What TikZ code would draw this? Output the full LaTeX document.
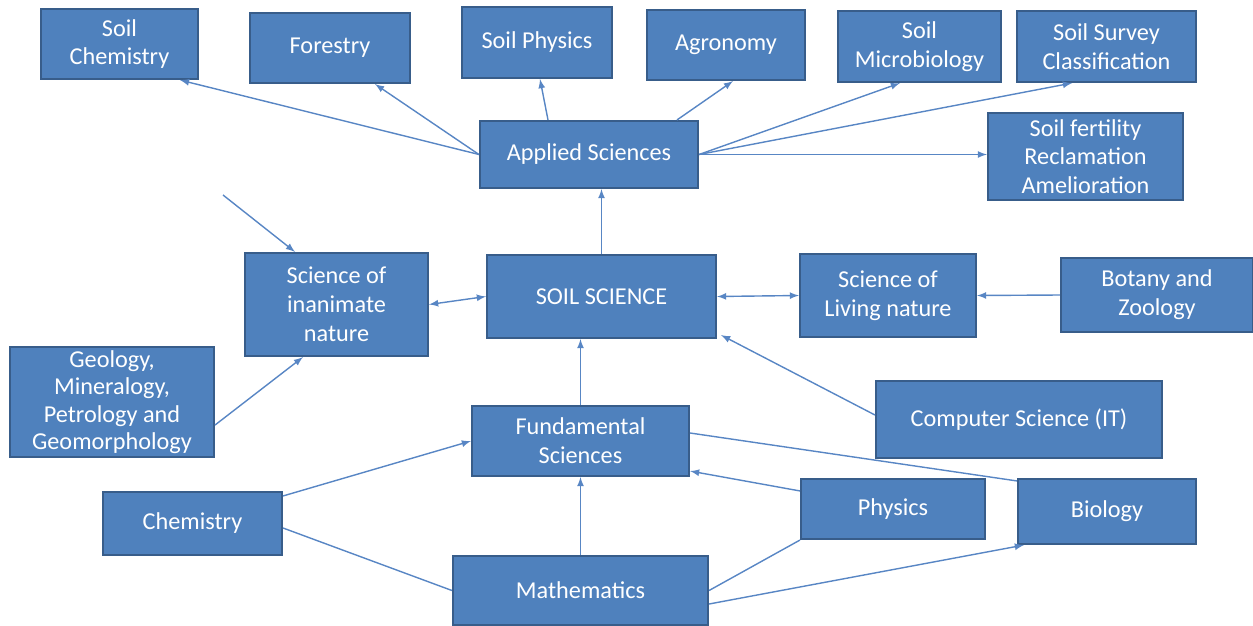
\documentclass[tikz,border=0pt]{standalone}
\usepackage{fontspec}
\setmainfont{Carlito}
\usetikzlibrary{calc,arrows}
\definecolor{boxfill}{RGB}{79,129,189}
\definecolor{boxline}{RGB}{56,93,138}
\definecolor{linkblue}{RGB}{88,134,196}
\tikzset{
  box/.style={draw=boxline, fill=boxfill, line width=1.2pt, text=white, align=center,
    inner sep=0pt, font=\fontsize{13.8}{16.4}\selectfont},
  link/.style={draw=linkblue, line width=0.8pt, -latex},
  twoway/.style={draw=linkblue, line width=0.8pt, latex-latex},
  plain/.style={draw=linkblue, line width=0.8pt}
}
\begin{document}
\begin{tikzpicture}[scale=1]
\useasboundingbox (0,0) rectangle (25.06,-12.5);
% top row
\node[box, minimum width=3.14cm, minimum height=1.40cm] (soilchem) at (2.39,-0.88) {Soil\\Chemistry};
\node[box, minimum width=3.20cm, minimum height=1.40cm] (forestry) at (6.60,-0.96) {Forestry};
\node[box, minimum width=3.00cm, minimum height=1.42cm] (soilphys) at (10.74,-0.85) {Soil Physics};
\node[box, minimum width=3.16cm, minimum height=1.40cm] (agronomy) at (14.52,-0.90) {Agronomy};
\node[box, minimum width=3.26cm, minimum height=1.42cm] (microbio) at (18.39,-0.93) {Soil\\Microbiology};
\node[box, minimum width=3.58cm, minimum height=1.42cm] (survey) at (22.13,-0.93) {Soil Survey\\Classification};
\node[box, minimum width=3.90cm, minimum height=1.74cm] (fertility) at (21.71,-3.13) {Soil fertility\\Reclamation\\Amelioration};
\node[box, minimum width=4.36cm, minimum height=1.34cm] (applied) at (11.78,-3.09) {Applied Sciences};
% middle row
\node[box, minimum width=3.66cm, minimum height=2.06cm] (inanimate) at (6.73,-6.09) {Science of\\inanimate\\nature};
\node[box, minimum width=4.58cm, minimum height=1.66cm] (soilsci) at (12.03,-5.93) {SOIL SCIENCE};
\node[box, minimum width=3.52cm, minimum height=1.66cm] (living) at (17.76,-5.91) {Science of\\Living nature};
\node[box, minimum width=3.84cm, minimum height=1.48cm] (botany) at (23.14,-5.90) {Botany and\\Zoology};
\node[box, minimum width=4.08cm, minimum height=2.20cm, font=\fontsize{13.8}{15.6}\selectfont] (geology) at (2.24,-8.04) {Geology,\\Mineralogy,\\Petrology and\\Geomorphology};
\node[box, minimum width=5.72cm, minimum height=1.54cm] (computer) at (20.38,-8.39) {Computer Science (IT)};
% bottom rows
\node[box, minimum width=4.34cm, minimum height=1.40cm] (fundamental) at (11.61,-8.82) {Fundamental\\Sciences};
\node[box, minimum width=3.58cm, minimum height=1.26cm] (chemistry) at (3.85,-10.47) {Chemistry};
\node[box, minimum width=3.68cm, minimum height=1.20cm] (physics) at (17.86,-10.18) {Physics};
\node[box, minimum width=3.56cm, minimum height=1.30cm] (biology) at (22.14,-10.23) {Biology};
\node[box, minimum width=5.10cm, minimum height=1.38cm] (maths) at (11.61,-11.81) {Mathematics};
\coordinate (loose) at (4.46,-3.90);
% applied sciences branches
\draw[link] (applied.west) -- ([xshift=1.21cm]soilchem.south);
\draw[link] (applied.west) -- ([xshift=0.9cm]forestry.south);
\draw[link] ([xshift=-0.82cm]applied.north) -- ([xshift=0.06cm]soilphys.south);
\draw[link] ([xshift=1.76cm]applied.north) -- ([xshift=0.14cm]agronomy.south);
\draw[link] (applied.east) -- ([xshift=-0.39cm]microbio.south);
\draw[link] (applied.east) -- ([xshift=-0.69cm]survey.south);
\draw[link] (applied.east) -- (applied.east -| fertility.west);
\draw[link] (soilsci.north) -- (soilsci.north |- applied.south);
% middle links
\draw[link] (loose) -- ([xshift=-0.83cm]inanimate.north);
\draw[twoway] (inanimate.east) -- (soilsci.west);
\draw[twoway] (soilsci.east) -- (living.west);
\draw[link] (botany.west) -- (living.east);
\draw[link] ([yshift=-0.46cm]geology.east) -- ([xshift=-0.67cm]inanimate.south);
\draw[link] ([yshift=0.09cm]computer.west) -- ([xshift=0.08cm,yshift=0.08cm]soilsci.south east);
\draw[link] (fundamental.north) -- (fundamental.north |- soilsci.south);
% fundamental sciences
\draw[plain] ([yshift=0.16cm]fundamental.east) -- ([yshift=-0.06cm]biology.north west);
\draw[link] ([yshift=-0.26cm]physics.north west) -- ([yshift=0.12cm]fundamental.south east);
\draw[link] ([yshift=-0.1cm]chemistry.north east) -- (fundamental.west);
\draw[plain] ([yshift=-0.09cm]chemistry.east) -- (maths.west);
\draw[link] (maths.north) -- (fundamental.south);
\draw[plain] (maths.east) -- (physics.south west);
\draw[link] ([yshift=-0.27cm]maths.east) -- ([xshift=0.14cm]biology.south west);
\end{tikzpicture}
\end{document}
